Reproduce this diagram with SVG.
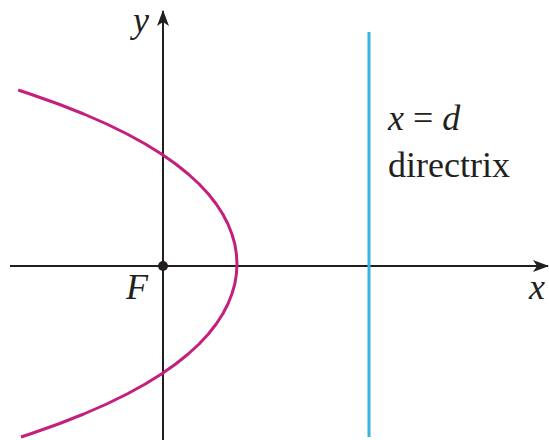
<svg xmlns="http://www.w3.org/2000/svg" width="549" height="440" viewBox="0 0 549 440">
<defs>
<style>
.axis{stroke:#231f20;stroke-width:2;fill:none}
.lbl{font-family:"Liberation Serif","Times New Roman",serif;font-size:36px;fill:#231f20}
.it{font-style:italic}
</style>
<marker id="ah" viewBox="0 0 16 12" refX="15" refY="6" markerWidth="16" markerHeight="12" markerUnits="userSpaceOnUse" orient="auto">
<path d="M0,0 L16,6 L0,12 L4,6 Z" fill="#231f20"/>
</marker>
</defs>
<rect width="549" height="440" fill="#fff"/>
<g id="connectors">
<line id="x-axis" class="axis" x1="10" y1="266" x2="548" y2="266" marker-end="url(#ah)"/>
<line id="y-axis" class="axis" x1="163" y1="440" x2="163" y2="11" marker-end="url(#ah)"/>
</g>
<g id="directrix">
<line x1="369" y1="32" x2="369" y2="437" stroke="#3ab2de" stroke-width="3"/>
<text class="lbl" x="388" y="130"><tspan class="it">x</tspan> = <tspan class="it">d</tspan></text>
<text class="lbl" x="388" y="177">directrix</text>
</g>
<g id="parabola">
<polyline fill="none" stroke="#c41f7c" stroke-width="3" stroke-linejoin="round" stroke-linecap="butt" points="18.2,90 30.1,94 58.4,104 83.8,114 106.7,124 127.1,134 145.3,144 161.5,154 175.7,164 188.2,174 199.1,184 208.4,194 216.2,204 222.7,214 227.9,224 231.9,234 234.8,244 236.4,254 237,264 236.4,274 234.8,284 231.9,294 227.9,304 222.7,314 216.2,324 208.4,334 199.1,344 188.2,354 175.7,364 161.5,374 145.3,384 127.1,394 106.7,404 83.8,414 58.4,424 30.1,434 21,437"/>
</g>
<g id="focus">
<circle cx="163" cy="266" r="5" fill="#231f20"/>
<text class="lbl it" x="126" y="299">F</text>
</g>
<g id="labels">
<text class="lbl it" x="133" y="32">y</text>
<text class="lbl it" x="529" y="299">x</text>
</g>
</svg>
